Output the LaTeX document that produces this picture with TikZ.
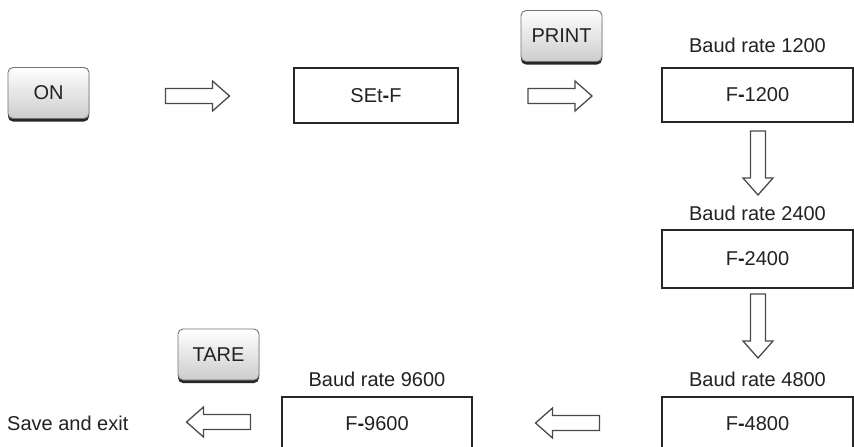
\documentclass[tikz,border=0pt]{standalone}
\usepackage{fontspec}
\setmainfont{Liberation Sans}
\usetikzlibrary{shadows}
\definecolor{txt}{HTML}{222222}
\definecolor{arrowc}{HTML}{4A4A4A}
\tikzset{
  every node/.style={font=\fontsize{20}{24}\selectfont, text=txt},
  btn/.style={rounded corners=5pt, draw=black!55, line width=0.9pt,
    top color=white, bottom color=black!20, minimum width=81pt, minimum height=51pt, inner sep=0pt,
    drop shadow={shadow xshift=0pt, shadow yshift=-3pt, fill=black!85, opacity=1}},
  valbox/.style={draw=black!85, line width=1.5pt, fill=white, inner sep=0pt},
  lbl/.style={inner sep=0pt},
  arrowline/.style={draw=arrowc, line width=1.3pt, fill=white, line join=miter},
  pics/blockarrow/.style={code={
    \draw[arrowline] (-32,-7.5) -- (15,-7.5) -- (15,-15) -- (32,0) -- (15,15) -- (15,7.5) -- (-32,7.5) -- cycle;
  }}
}
\newcommand{\dashb}{{\bfseries -}}
\begin{document}
\begin{tikzpicture}[x=1pt,y=-1pt]
\useasboundingbox (0,0) rectangle (854,447);
\clip (0,0) rectangle (854,447);
\fill[white] (0,0) rectangle (854,447);

% buttons
\node[btn] (on) at (48.5,93) {ON};
\node[btn] (print) at (561.5,36) {PRINT};
\node[btn] (tare) at (218.5,354.5) {TARE};

% value boxes
\node[valbox, minimum width=164pt, minimum height=55pt] (setf) at (376,95.5) {SEt\dashb F};
\node[valbox, minimum width=191pt, minimum height=54pt] (f1200) at (757.5,95) {F\dashb 1200};
\node[valbox, minimum width=191pt, minimum height=58pt] (f2400) at (757.5,259) {F\dashb 2400};
\node[valbox, minimum width=191pt, minimum height=58pt, anchor=north] (f4800) at (757.5,396) {};
\node at (757.5,424) (t4800) {F\dashb 4800};
\node[valbox, minimum width=190pt, minimum height=58pt, anchor=north] (f9600) at (377,396) {};
\node at (377,424) (t9600) {F\dashb 9600};

% labels
\node[lbl] (l1200) at (757.5,45) {Baud rate 1200};
\node[lbl] (l2400) at (757.5,213) {Baud rate 2400};
\node[lbl] (l4800) at (757.5,379) {Baud rate 4800};
\node[lbl] (l9600) at (377,379) {Baud rate 9600};
\node[lbl, anchor=west] (save) at (7,423) {Save and exit};

% hollow arrows
\pic at (197.5,96) {blockarrow};
\pic at (560,96) {blockarrow};
\pic[rotate=-90] at (758,163) {blockarrow};
\pic[rotate=-90] at (758,326) {blockarrow};
\pic[rotate=180] at (567.5,423) {blockarrow};
\pic[rotate=180] at (218.5,422) {blockarrow};
\end{tikzpicture}
\end{document}
